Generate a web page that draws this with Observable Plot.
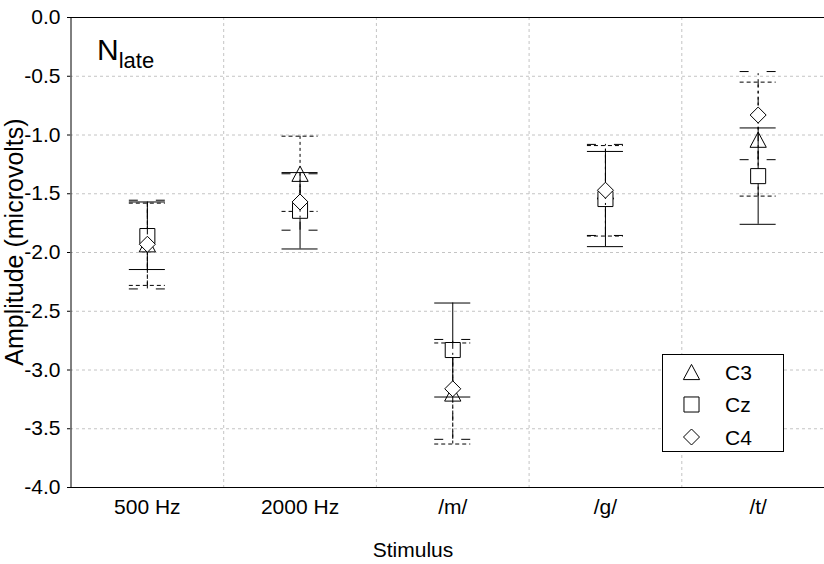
<!DOCTYPE html>
<html><head><meta charset="utf-8">
<script src="https://cdn.jsdelivr.net/npm/d3@7"></script>
<script src="https://cdn.jsdelivr.net/npm/@observablehq/plot@0.6"></script>
<style>
html,body{margin:0;padding:0;background:#fff;overflow:hidden;}
#chart svg{font-family:Arial,"Liberation Sans",sans-serif;overflow:hidden;}
</style></head><body><div id="chart"></div>
<script>
// ---- data ----
const stimuli = ["500 Hz", "2000 Hz", "/m/", "/g/", "/t/"];
const seriesNames = ["C3", "Cz", "C4"];
const c3Mean  = [-1.93, -1.33, -3.20, -1.48, -1.04];
const c3Upper = [-1.58, -1.01, -2.77, -1.09, -0.55];
const c3Lower = [-2.28, -1.65, -3.63, -1.86, -1.52];
const czMean  = [-1.86, -1.645, -2.83, -1.545, -1.35];
const czUpper = [-1.57, -1.32, -2.43, -1.14, -0.94];
const czLower = [-2.145, -1.97, -3.23, -1.95, -1.76];
const c4Mean  = [-1.93, -1.57, -3.16, -1.47, -0.83];
const c4Upper = [-1.555, -1.33, -2.74, -1.08, -0.46];
const c4Lower = [-2.31, -1.81, -3.59, -1.855, -1.21];
const yTicks = [0, -0.5, -1, -1.5, -2, -2.5, -3, -3.5, -4];

const seriesData = [
  {name: "C3", mean: c3Mean, upper: c3Upper, lower: c3Lower},
  {name: "Cz", mean: czMean, upper: czUpper, lower: czLower},
  {name: "C4", mean: c4Mean, upper: c4Upper, lower: c4Lower}
];

// ---- symbols ----
const triSym = {draw(ctx, size) { const r = Math.sqrt(size / Math.PI) * 0.95;
  ctx.moveTo(0, -r); ctx.lineTo(r * 1.07, r); ctx.lineTo(-r * 1.07, r); ctx.closePath(); }};
const sqSym = {draw(ctx, size) { const r = Math.sqrt(size / Math.PI) * 0.94;
  ctx.moveTo(-r, -r); ctx.lineTo(r, -r); ctx.lineTo(r, r); ctx.lineTo(-r, r); ctx.closePath(); }};
const diaSym = {draw(ctx, size) { const r = Math.sqrt(size / Math.PI);
  ctx.moveTo(0, -r); ctx.lineTo(r, 0); ctx.lineTo(0, r); ctx.lineTo(-r, 0); ctx.closePath(); }};
const styles = {
  C3: {symbol: triSym, dash: "3,3", capDash: "4,3"},
  Cz: {symbol: sqSym, dash: null, capDash: null},
  C4: {symbol: diaSym, dash: "8,4,2,4", capDash: "9,18"}
};
const capHalf = 0.118;

const marks = [];
// grid
marks.push(Plot.ruleY(yTicks.filter(t => t !== 0 && t !== -4), {stroke: "#c4c4c4", strokeDasharray: "3,3"}));
marks.push(Plot.ruleX(d3.range(1, stimuli.length), {stroke: "#c4c4c4", strokeDasharray: "3,3"}));
// frame
marks.push(Plot.ruleY([0], {stroke: "#000"}));
marks.push(Plot.ruleY([-4], {stroke: "#000"}));
marks.push(Plot.ruleX([0], {stroke: "#000"}));

for (const s of seriesData) {
  const rows = stimuli.map((st, i) => ({idx: i, mean: s.mean[i], upper: s.upper[i], lower: s.lower[i]}));
  const st = styles[s.name];
  const xc = d => d.idx + 0.5;
  marks.push(Plot.ruleX(rows, {x: xc, y1: "lower", y2: "upper", stroke: "#000", strokeWidth: 1, strokeDasharray: st.dash}));
  for (const k of ["upper", "lower"]) {
    marks.push(Plot.ruleY(rows, {y: k, x1: d => xc(d) - capHalf, x2: d => xc(d) + capHalf, stroke: "#000", strokeWidth: 1, strokeDasharray: st.capDash}));
  }
  marks.push(Plot.dot(rows, {x: xc, y: "mean", symbol: st.symbol, r: 8, fill: "white", stroke: "#000", strokeWidth: 1}));
}

marks.push(Plot.axisY({ticks: yTicks, tickFormat: d => d.toFixed(1), tickSize: 3, tickPadding: 7, fontSize: 21, label: null}));
marks.push(Plot.axisX({ticks: stimuli.map((_, i) => i + 0.5), tickFormat: d => stimuli[Math.round(d - 0.5)], tickSize: 0, tickPadding: 12, fontSize: 21, label: null}));

const chart = Plot.plot({
  width: 824, height: 564,
  marginTop: 17, marginBottom: 77, marginLeft: 70, marginRight: 0,
  style: {fontFamily: "Arial, 'Liberation Sans', sans-serif", color: "#000", background: "#fff"},
  x: {type: "linear", domain: [0, stimuli.length], range: [70.5, 834]},
  y: {domain: [-4, 0]},
  marks
});
document.getElementById("chart").appendChild(chart);

// ---- annotations ----
const svg = d3.select(chart);
const title = svg.append("text").attr("x", 97).attr("y", 60).attr("text-anchor", "start")
  .attr("font-size", 30).attr("fill", "#000").text("N");
title.append("tspan").attr("font-size", 22).attr("dy", 8).text("late");
svg.append("text").attr("transform", "translate(23,242) rotate(-90)").attr("text-anchor", "middle")
  .attr("font-size", 25).attr("fill", "#000").text("Amplitude (microvolts)");
svg.append("text").attr("x", 413).attr("y", 557).attr("text-anchor", "middle")
  .attr("font-size", 21).attr("fill", "#000").text("Stimulus");

// legend
const lg = svg.append("g");
lg.append("rect").attr("x", 662.5).attr("y", 354.5).attr("width", 121).attr("height", 97)
  .attr("fill", "white").attr("stroke", "#000");
seriesNames.forEach((n, i) => {
  const y = 372 + i * 32.5;
  lg.append("path").attr("d", d3.symbol().type(styles[n].symbol).size(64 * Math.PI)())
    .attr("transform", `translate(691.5,${y})`).attr("fill", "white").attr("stroke", "#000");
  lg.append("text").attr("x", 725).attr("y", y + 7.5).attr("text-anchor", "start")
    .attr("font-size", 21).attr("fill", "#000").text(n);
});
</script></body></html>
